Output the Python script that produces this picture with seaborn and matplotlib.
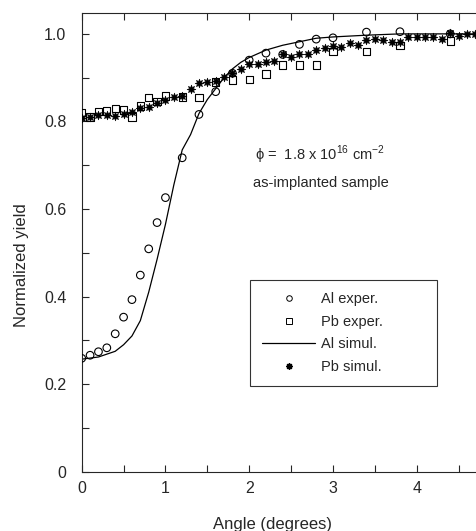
import numpy as np
import pandas as pd
import matplotlib
matplotlib.use("Agg")
import matplotlib.pyplot as plt
from matplotlib.lines import Line2D
from matplotlib.ticker import MultipleLocator
import seaborn as sns

sns.set_style("ticks")
plt.rcParams['font.family'] = ['Liberation Sans', 'DejaVu Sans']
plt.rcParams['mathtext.fontset'] = 'custom'
plt.rcParams['mathtext.rm'] = 'Liberation Sans'

# Al experiment (open circles)
al_exp_x = [0.0, 0.1, 0.2, 0.3, 0.4, 0.5, 0.6, 0.7, 0.8, 0.9, 1.0, 1.2, 1.4, 1.6, 1.8,
            2.0, 2.2, 2.4, 2.6, 2.8, 3.0, 3.4, 3.8, 4.4]
al_exp_y = [0.259, 0.266, 0.274, 0.283, 0.315, 0.353, 0.393, 0.449, 0.509, 0.569, 0.626,
            0.717, 0.816, 0.868, 0.91, 0.94, 0.956, 0.953, 0.976, 0.988, 0.991, 1.004,
            1.005, 1.0]

# Pb experiment (open squares)
pb_exp_x = [0.0, 0.1, 0.2, 0.3, 0.4, 0.5, 0.6, 0.7, 0.8, 0.9, 1.0, 1.2, 1.4, 1.6, 1.8,
            2.0, 2.2, 2.4, 2.6, 2.8, 3.0, 3.4, 3.8, 4.4]
pb_exp_y = [0.82, 0.81, 0.822, 0.824, 0.83, 0.826, 0.81, 0.835, 0.855, 0.845, 0.858,
            0.856, 0.855, 0.89, 0.895, 0.896, 0.908, 0.929, 0.929, 0.929, 0.96, 0.96,
            0.973, 0.984]

# Al simulation (line)
al_sim_x = [0.0, 0.2, 0.4, 0.5, 0.6, 0.7, 0.8, 0.9, 1.0, 1.1, 1.2, 1.3, 1.4, 1.5, 1.6,
            1.7, 1.8, 1.9, 2.0, 2.2, 2.4, 2.6, 2.8, 3.0, 3.4, 3.8, 4.2, 4.8]
al_sim_y = [0.257, 0.262, 0.275, 0.29, 0.31, 0.345, 0.41, 0.485, 0.565, 0.655, 0.735,
            0.77, 0.818, 0.85, 0.875, 0.9, 0.92, 0.935, 0.946, 0.963, 0.974, 0.982,
            0.99, 0.993, 0.997, 1.0, 1.0, 1.0]

# Pb simulation (stars)
pb_sim_x = [0.0, 0.1, 0.2, 0.3, 0.4, 0.5, 0.6, 0.7, 0.8, 0.9, 1.0, 1.1, 1.2, 1.3, 1.4,
            1.5, 1.6, 1.7, 1.8, 1.9, 2.0, 2.1, 2.2, 2.3, 2.4, 2.5, 2.6, 2.7, 2.8, 2.9,
            3.0, 3.1, 3.2, 3.3, 3.4, 3.5, 3.6, 3.7, 3.8, 3.9, 4.0, 4.1, 4.2, 4.3, 4.4,
            4.5, 4.6, 4.7]
pb_sim_y = [0.807, 0.81, 0.814, 0.814, 0.812, 0.816, 0.822, 0.83, 0.833, 0.841, 0.849,
            0.856, 0.858, 0.873, 0.888, 0.89, 0.892, 0.902, 0.911, 0.919, 0.931, 0.932,
            0.935, 0.938, 0.953, 0.947, 0.954, 0.954, 0.964, 0.968, 0.972, 0.970, 0.979,
            0.974, 0.986, 0.988, 0.987, 0.982, 0.982, 0.993, 0.993, 0.993, 0.993, 0.988,
            1.003, 0.995, 1.0, 0.999]

fig = plt.figure(figsize=(4.76, 5.31), dpi=100)
# axes runs a little past the right edge, as in the cropped original
ax = fig.add_axes([81.7 / 476, 59.3 / 531, 402 / 476, 458.4 / 531])

sns.lineplot(x=al_sim_x, y=al_sim_y, ax=ax, color='black', linewidth=0.9, zorder=2)
sns.scatterplot(x=pb_sim_x, y=pb_sim_y, ax=ax, marker=(8, 1, 0), s=40,
                color='black', edgecolor='black', linewidth=0.4, zorder=3)
sns.scatterplot(x=al_exp_x, y=al_exp_y, ax=ax, marker='o', s=30,
                facecolor='none', edgecolor='black', linewidth=0.8, zorder=4)
sns.scatterplot(x=pb_exp_x, y=pb_exp_y, ax=ax, marker='s', s=28,
                facecolor='none', edgecolor='black', linewidth=0.8, zorder=4)

ax.set_xlim(0, 4.8)
ax.set_ylim(0, 1.047)
ax.xaxis.set_minor_locator(MultipleLocator(0.5))
ax.yaxis.set_minor_locator(MultipleLocator(0.1))
ax.set_yticks([0, 0.2, 0.4, 0.6, 0.8, 1.0])
ax.set_yticklabels(['0', '0.2', '0.4', '0.6', '0.8', '1.0'])
ax.set_xticks([0, 1, 2, 3, 4])
ax.set_xticklabels(['0', '1', '2', '3', '4'])
ax.tick_params(which='both', direction='in', top=True, right=True, width=0.8,
               labelsize=11.5, length=5)
ax.tick_params(axis='y', pad=11)
ax.tick_params(axis='x', pad=7)
for s in ax.spines.values():
    s.set_linewidth(0.8)

ax.set_xlabel('Angle (degrees)', fontsize=12)
ax.set_ylabel('Normalized yield', fontsize=12)
ax.xaxis.set_label_coords(0.475, -0.098)
ax.yaxis.set_label_coords(-0.13, 0.45)

ax.text(2.07, 0.723, 'ϕ =  1.8 x 10$^{16}$ cm$^{-2}$', fontsize=10.5, va='center')
ax.text(2.05, 0.659, 'as-implanted sample', fontsize=10.5, va='center')

handles = [
    Line2D([], [], marker='o', linestyle='none', markerfacecolor='none',
           markeredgecolor='black', markersize=4, markeredgewidth=0.7),
    Line2D([], [], marker='s', linestyle='none', markerfacecolor='none',
           markeredgecolor='black', markersize=3.8, markeredgewidth=0.7),
    Line2D([], [], color='black', linewidth=0.9),
    Line2D([], [], marker=(8, 1, 0), linestyle='none', color='black', markersize=4.5),
]
labels = ['Al exper.', 'Pb exper.', 'Al simul.', 'Pb simul.']
leg = ax.legend(handles, labels, loc='upper left',
                bbox_to_anchor=(168.3 / 402, (471.7 - 280) / 458.4, 187 / 402, 0.0),
                mode='expand', fontsize=10.5, frameon=True, fancybox=False,
                edgecolor='black', handlelength=3.6, handletextpad=0.4,
                labelspacing=0.58, borderpad=0.85, borderaxespad=0.0)
leg.get_frame().set_linewidth(0.8)

fig.savefig('out.png', dpi=100)
